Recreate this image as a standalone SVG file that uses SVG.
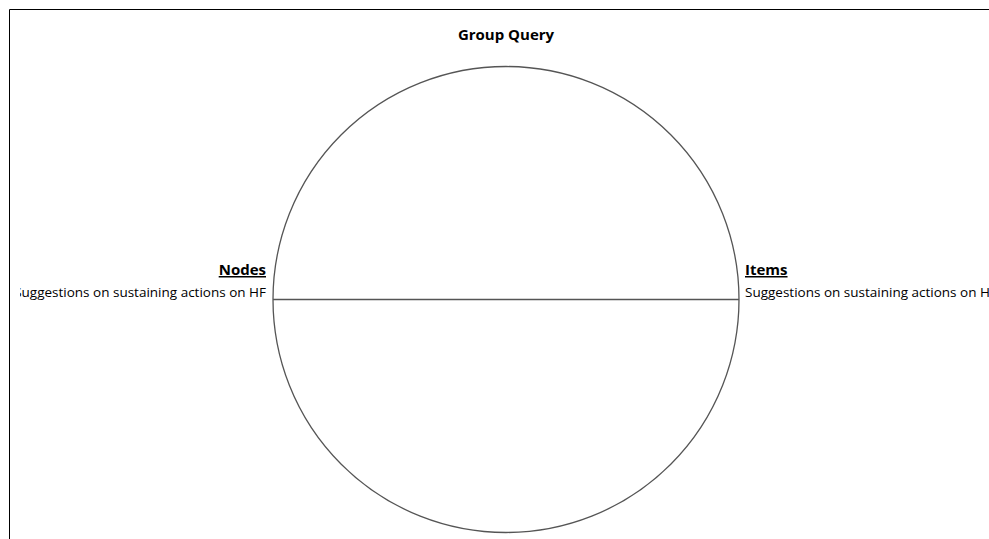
<svg xmlns="http://www.w3.org/2000/svg" width="989" height="539" viewBox="0 0 989 539">
<style>
text{font-family:"Open Sans","Noto Sans","Liberation Sans",sans-serif;fill:#000}
.t{font-size:15px;font-weight:bold}
.h{font-size:15px;font-weight:bold;text-decoration:underline}
.d{font-size:13.5px}
.ln{stroke:#555;stroke-width:1.3;fill:none}
</style>
<defs>
<clipPath id="cl"><rect x="20" y="0" width="969" height="539"/></clipPath>
</defs>
<rect x="0" y="0" width="989" height="539" fill="#fff"/>
<path d="M9.5 539 V9.5 H989" stroke="#000" stroke-width="1" fill="none"/>
<text class="t" x="506" y="40" text-anchor="middle">Group Query</text>
<g id="circle">
<circle class="ln" cx="506" cy="299.5" r="233"/>
</g>
<g id="connectors">
<line class="ln" x1="273" y1="299.5" x2="739" y2="299.5"/>
</g>
<g id="nodes">
<text class="h" x="266" y="275" text-anchor="end">Nodes</text>
<text class="d" x="266" y="297" text-anchor="end" clip-path="url(#cl)">Suggestions on sustaining actions on HF</text>
</g>
<g id="items">
<text class="h" x="745" y="275">Items</text>
<text class="d" x="745" y="297">Suggestions on sustaining actions on HF</text>
</g>
</svg>
